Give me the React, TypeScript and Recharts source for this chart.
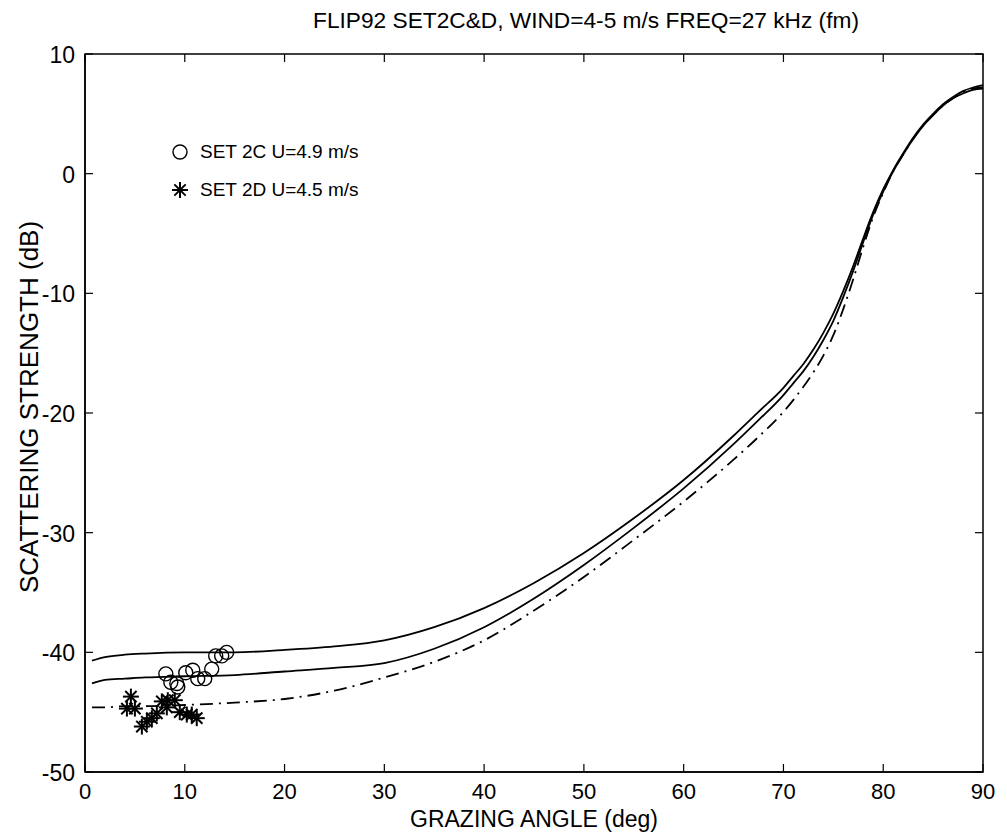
import React from 'react';
import { ComposedChart, Line, Scatter, XAxis, YAxis, Customized, ReferenceLine, ReferenceArea } from 'recharts';

// ---- data ----
const curveAngles = [0.7, 2, 4, 6, 10, 15, 20, 25, 30, 35, 40, 45, 50, 55, 60, 65, 67.5, 70, 71, 72, 73, 74, 75, 76, 77, 78, 79, 80, 81, 82, 83, 84, 85, 86, 87, 88, 89, 90];
const upperSolidDb = [-40.7, -40.4, -40.2, -40.1, -40.0, -40.0, -39.8, -39.5, -39.0, -37.9, -36.3, -34.2, -31.7, -28.8, -25.6, -21.9, -19.9, -17.9, -16.9, -15.9, -14.7, -13.3, -11.7, -9.8, -7.7, -5.4, -3.2, -1.3, 0.3, 1.7, 3.0, 4.1, 5.0, 5.8, 6.4, 6.9, 7.2, 7.4];
const lowerSolidDb = [-42.6, -42.3, -42.2, -42.1, -42.0, -41.9, -41.6, -41.3, -40.9, -39.7, -37.9, -35.5, -32.7, -29.6, -26.3, -22.6, -20.6, -18.5, -17.5, -16.5, -15.3, -13.9, -12.3, -10.3, -8.1, -5.7, -3.4, -1.5, 0.2, 1.6, 2.9, 4.0, 4.9, 5.7, 6.3, 6.7, 7.0, 7.1];
const dashDotDb = [-44.6, -44.6, -44.5, -44.5, -44.4, -44.2, -43.9, -43.2, -42.1, -40.8, -39.0, -36.5, -33.7, -30.6, -27.4, -23.9, -22.0, -19.9, -18.9, -17.8, -16.6, -15.2, -13.5, -11.3, -8.8, -6.1, -3.6, -1.6, 0.2, 1.6, 2.9, 4.0, 4.9, 5.7, 6.3, 6.8, 7.1, 7.2];

const set2CAngles = [8.1, 8.6, 9.2, 9.3, 10.1, 10.8, 11.3, 12.0, 12.7, 13.1, 13.7, 14.2];
const set2CDb = [-41.8, -42.5, -42.6, -42.9, -41.7, -41.5, -42.2, -42.2, -41.4, -40.3, -40.3, -40.0];
const set2DAngles = [4.6, 4.2, 5.0, 5.7, 6.2, 6.7, 7.2, 7.7, 8.2, 8.3, 9.0, 9.5, 10.2, 10.7, 11.2];
const set2DDb = [-43.7, -44.7, -44.7, -46.2, -45.8, -45.5, -45.1, -44.1, -44.6, -44.0, -44.0, -45.0, -45.2, -45.2, -45.5];

const xTicks = [0, 10, 20, 30, 40, 50, 60, 70, 80, 90];
const yTicks = [-50, -40, -30, -20, -10, 0, 10];
const X_MIN = 0, X_MAX = 90, Y_MIN = -50, Y_MAX = 10;

const title = 'FLIP92 SET2C&D, WIND=4-5 m/s FREQ=27 kHz (fm)';
const xLabel = 'GRAZING ANGLE (deg)';
const yLabel = 'SCATTERING STRENGTH (dB)';
const legendLabels = ['SET 2C U=4.9 m/s', 'SET 2D U=4.5 m/s'];

const toPts = (xs: number[], ys: number[]) => xs.map((x, i) => ({ x, y: ys[i] }));
const upperData = toPts(curveAngles, upperSolidDb);
const lowerData = toPts(curveAngles, lowerSolidDb);
const dashData = toPts(curveAngles, dashDotDb);
const set2CData = toPts(set2CAngles, set2CDb);
const set2DData = toPts(set2DAngles, set2DDb);

const FONT = '"Liberation Sans", Arial, Helvetica, sans-serif';
// inward tick length expressed in axis units (~8px)
const X_TICK_LEN = 0.8;
const Y_TICK_LEN = 0.67;

const BottomTick = (p: any) => (
  <text x={p.x} y={p.y + 27} textAnchor="middle" fontFamily={FONT} fontSize={22} fill="#000">{p.payload.value}</text>
);
const LeftTick = (p: any) => (
  <text x={p.x - 10} y={p.y + 9} textAnchor="end" fontFamily={FONT} fontSize={23} fill="#000">{p.payload.value}</text>
);

const CircleMark = (p: any) => (
  <circle cx={p.cx} cy={p.cy} r={7} fill="none" stroke="#000" strokeWidth={1.4} />
);
const StarMark = (p: any) => {
  const r = 8;
  const d = r * 0.707;
  return (
    <g stroke="#000" strokeWidth={2}>
      <line x1={p.cx - r} y1={p.cy} x2={p.cx + r} y2={p.cy} />
      <line x1={p.cx} y1={p.cy - r} x2={p.cx} y2={p.cy + r} />
      <line x1={p.cx - d} y1={p.cy - d} x2={p.cx + d} y2={p.cy + d} />
      <line x1={p.cx - d} y1={p.cy + d} x2={p.cx + d} y2={p.cy - d} />
    </g>
  );
};

const Texts = () => (
  <g fontFamily={FONT} fill="#000">
    <text x={586} y={28} textAnchor="middle" fontSize={22.7}>{title}</text>
    <text x={534} y={827} textAnchor="middle" fontSize={23}>{xLabel}</text>
    <text x={38} y={407} textAnchor="middle" fontSize={26} transform="rotate(-90 38 407)">{yLabel}</text>
  </g>
);

export default function App() {
  return (
    <div style={{ position: 'absolute', left: 0, top: 0, width: 1007, height: 833, background: '#fff' }}>
      <ComposedChart width={1007} height={833} margin={{ top: 54, right: 24, bottom: 0, left: 0 }}>
        <XAxis type="number" dataKey="x" domain={[X_MIN, X_MAX]} ticks={xTicks} orientation="bottom" height={61}
          axisLine={{ stroke: '#000', strokeWidth: 1.5 }} tickLine={false} tickSize={0} tickMargin={0} tick={<BottomTick />} allowDataOverflow />
        <YAxis type="number" dataKey="y" domain={[Y_MIN, Y_MAX]} ticks={yTicks} orientation="left" width={85}
          axisLine={{ stroke: '#000', strokeWidth: 1.5 }} tickLine={false} tickSize={0} tickMargin={0} tick={<LeftTick />} allowDataOverflow />
        <ReferenceArea x1={X_MIN} x2={X_MAX} y1={Y_MIN} y2={Y_MAX} fill="none" fillOpacity={0} stroke="#000" strokeWidth={1.5} />
        {xTicks.map((t) => (
          <ReferenceLine key={'b' + t} segment={[{ x: t, y: Y_MIN }, { x: t, y: Y_MIN + Y_TICK_LEN }]} stroke="#000" strokeWidth={1.2} />
        ))}
        {xTicks.map((t) => (
          <ReferenceLine key={'t' + t} segment={[{ x: t, y: Y_MAX }, { x: t, y: Y_MAX - Y_TICK_LEN }]} stroke="#000" strokeWidth={1.2} />
        ))}
        {yTicks.map((t) => (
          <ReferenceLine key={'l' + t} segment={[{ x: X_MIN, y: t }, { x: X_MIN + X_TICK_LEN, y: t }]} stroke="#000" strokeWidth={1.2} />
        ))}
        {yTicks.map((t) => (
          <ReferenceLine key={'r' + t} segment={[{ x: X_MAX, y: t }, { x: X_MAX - X_TICK_LEN, y: t }]} stroke="#000" strokeWidth={1.2} />
        ))}
        <Line data={upperData} dataKey="y" type="monotone" stroke="#000" strokeWidth={1.8} dot={false} isAnimationActive={false} />
        <Line data={lowerData} dataKey="y" type="monotone" stroke="#000" strokeWidth={1.8} dot={false} isAnimationActive={false} />
        <Line data={dashData} dataKey="y" type="monotone" stroke="#000" strokeWidth={1.8} strokeDasharray="13 6 2 6" dot={false} isAnimationActive={false} />
        <Scatter data={set2CData} dataKey="y" shape={<CircleMark />} isAnimationActive={false} />
        <Scatter data={set2DData} dataKey="y" shape={<StarMark />} isAnimationActive={false} />
        <Customized component={<Texts />} />
      </ComposedChart>
      <div style={{ position: 'absolute', left: 168, top: 133, fontFamily: FONT, fontSize: 19, color: '#000', lineHeight: '38px' }}>
        <div style={{ display: 'flex', alignItems: 'center', height: 38 }}>
          <svg width={26} height={20}><CircleMark cx={12} cy={10} /></svg>
          <span style={{ marginLeft: 6 }}>{legendLabels[0]}</span>
        </div>
        <div style={{ display: 'flex', alignItems: 'center', height: 38 }}>
          <svg width={26} height={20}><StarMark cx={12} cy={10} /></svg>
          <span style={{ marginLeft: 6 }}>{legendLabels[1]}</span>
        </div>
      </div>
    </div>
  );
}
